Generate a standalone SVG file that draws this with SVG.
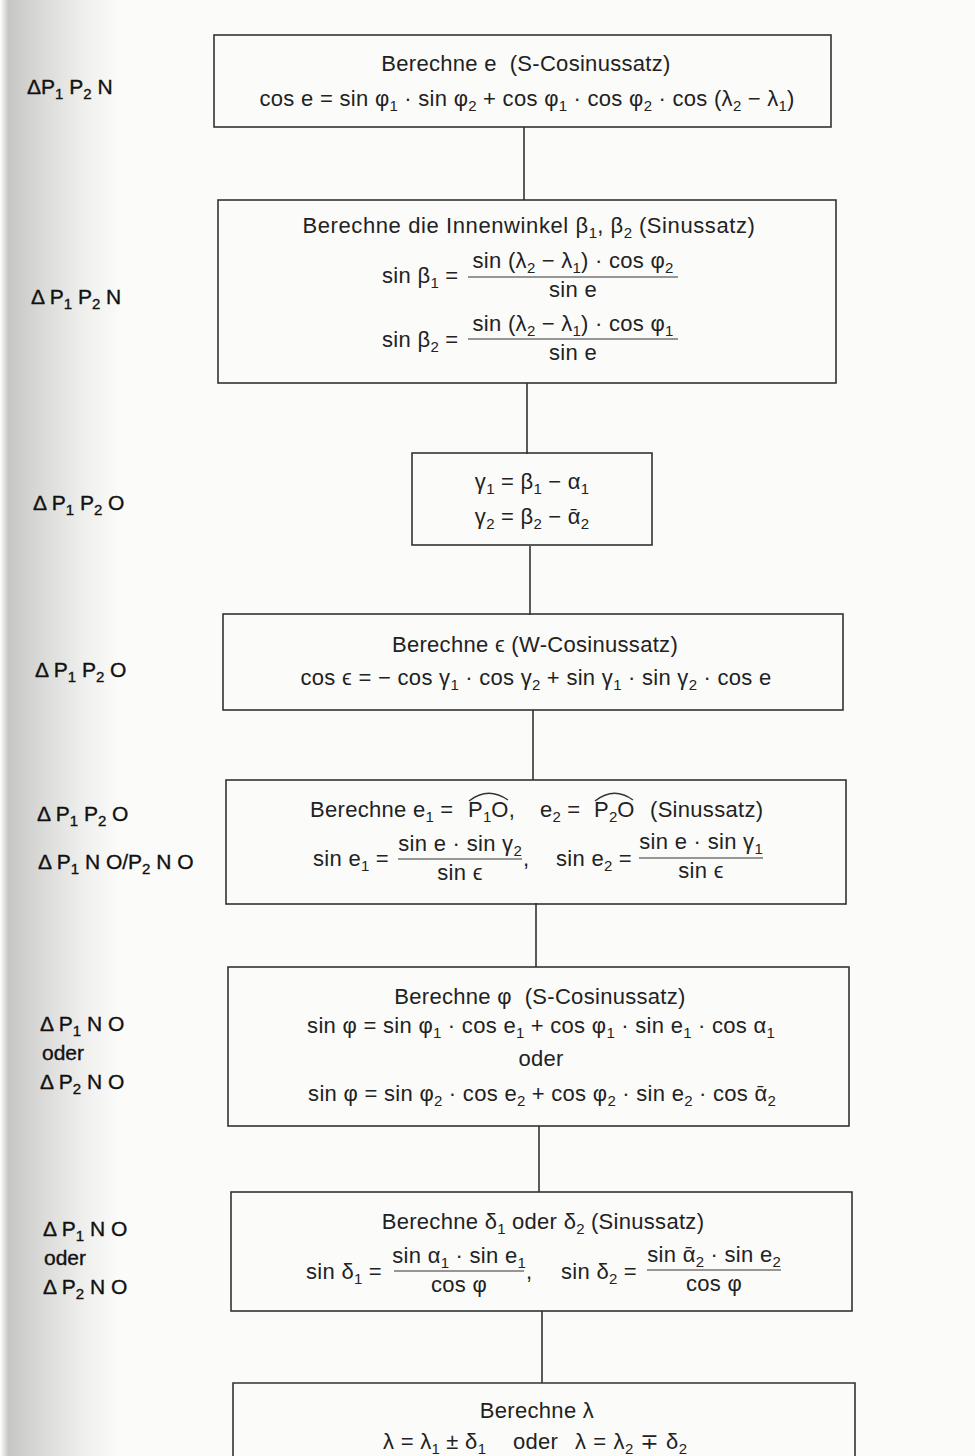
<svg xmlns="http://www.w3.org/2000/svg" width="975" height="1456" viewBox="0 0 975 1456">
  <defs>
    <linearGradient id="edge" x1="0" y1="0" x2="1" y2="0">
      <stop offset="0" stop-color="#ffffff"/>
      <stop offset="0.07" stop-color="#c6c6c4"/>
      <stop offset="0.35" stop-color="#dadad8"/>
      <stop offset="0.7" stop-color="#efefed"/>
      <stop offset="1" stop-color="#fbfbfa"/>
    </linearGradient>
    <style>
      text{font-family:"Liberation Sans","DejaVu Sans",Arial,sans-serif;font-size:22px;letter-spacing:0.3px;fill:#222;white-space:pre;}
      .c{text-anchor:middle;}
      .w{letter-spacing:0.6px;}
      .lab{font-size:21px;letter-spacing:0;fill:#111;stroke:#111;stroke-width:0.35px;}
      .s{font-size:15px;baseline-shift:-5px;letter-spacing:0;}
      .box{fill:none;stroke:#333;stroke-width:1.6;}
      .fr{stroke:#333;stroke-width:1.2;}
      .arc{fill:none;stroke:#333;stroke-width:1.4;}
      .conn{stroke:#333;stroke-width:1.6;fill:none;}
    </style>
  </defs>

  <!-- page -->
  <rect x="0" y="0" width="975" height="1456" fill="#fbfbfa"/>
  <rect x="0" y="0" width="120" height="1456" fill="url(#edge)"/>

  <!-- connectors between steps -->
  <g id="connectors">
    <line class="conn" x1="524" y1="127" x2="524" y2="200"/>
    <line class="conn" x1="527" y1="383" x2="527" y2="454"/>
    <line class="conn" x1="530" y1="546" x2="530" y2="615"/>
    <line class="conn" x1="533" y1="710" x2="533" y2="780"/>
    <line class="conn" x1="536" y1="903" x2="536" y2="967"/>
    <line class="conn" x1="539" y1="1126" x2="539" y2="1192"/>
    <line class="conn" x1="542" y1="1311" x2="542" y2="1383"/>
  </g>

  <!-- step 1: side e -->
  <g id="step-e">
    <rect class="box" x="214" y="35" width="617" height="92"/>
    <text class="c" x="526" y="71">Berechne e  (S-Cosinussatz)</text>
    <text class="c" x="527" y="106">cos e = sin φ<tspan class="s">1</tspan> · sin φ<tspan class="s">2</tspan> + cos φ<tspan class="s">1</tspan> · cos φ<tspan class="s">2</tspan> · cos (λ<tspan class="s">2</tspan> − λ<tspan class="s">1</tspan>)</text>
  </g>

  <!-- step 2: inner angles beta -->
  <g id="step-beta">
    <rect class="box" x="218" y="200" width="618" height="183"/>
    <text class="c w" x="529" y="233">Berechne die Innenwinkel β<tspan class="s">1</tspan>, β<tspan class="s">2</tspan> (Sinussatz)</text>
    <text x="382" y="283">sin β<tspan class="s">1</tspan> =</text>
    <text class="c" x="573" y="268">sin (λ<tspan class="s">2</tspan> − λ<tspan class="s">1</tspan>) · cos φ<tspan class="s">2</tspan></text>
    <line class="fr" x1="468" y1="277" x2="678" y2="277"/>
    <text class="c" x="573" y="297">sin e</text>
    <text x="382" y="347">sin β<tspan class="s">2</tspan> =</text>
    <text class="c" x="573" y="331">sin (λ<tspan class="s">2</tspan> − λ<tspan class="s">1</tspan>) · cos φ<tspan class="s">1</tspan></text>
    <line class="fr" x1="468" y1="339" x2="678" y2="339"/>
    <text class="c" x="573" y="360">sin e</text>
  </g>

  <!-- step 3: gamma -->
  <g id="step-gamma">
    <rect class="box" x="412" y="453" width="240" height="92"/>
    <text class="c" x="532" y="489">γ<tspan class="s">1</tspan> = β<tspan class="s">1</tspan> − α<tspan class="s">1</tspan></text>
    <text class="c" x="532" y="524">γ<tspan class="s">2</tspan> = β<tspan class="s">2</tspan> − ᾱ<tspan class="s">2</tspan></text>
  </g>

  <!-- step 4: epsilon -->
  <g id="step-epsilon">
    <rect class="box" x="223" y="614" width="620" height="96"/>
    <text class="c" x="535" y="652">Berechne ϵ (W-Cosinussatz)</text>
    <text class="c" x="536" y="685">cos ϵ = − cos γ<tspan class="s">1</tspan> · cos γ<tspan class="s">2</tspan> + sin γ<tspan class="s">1</tspan> · sin γ<tspan class="s">2</tspan> · cos e</text>
  </g>

  <!-- step 5: arcs e1, e2 -->
  <g id="step-e12">
    <rect class="box" x="226" y="780" width="620" height="124"/>
    <text x="310" y="817">Berechne e<tspan class="s">1</tspan> =</text>
    <text x="468" y="817">P<tspan class="s">1</tspan>O,</text>
    <text x="540" y="817">e<tspan class="s">2</tspan> =</text>
    <text x="594" y="817">P<tspan class="s">2</tspan>O</text>
    <text x="650" y="817">(Sinussatz)</text>
    <path class="arc" d="M469 801 Q488 786 508 800"/>
    <path class="arc" d="M595 801 Q614 786 633 800"/>
    <text x="313" y="866">sin e<tspan class="s">1</tspan> =</text>
    <text class="c" x="460" y="851">sin e · sin γ<tspan class="s">2</tspan></text>
    <line class="fr" x1="398" y1="859" x2="522" y2="859"/>
    <text class="c" x="460" y="880">sin ϵ</text>
    <text x="523" y="866">,</text>
    <text x="556" y="866">sin e<tspan class="s">2</tspan> =</text>
    <text class="c" x="701" y="849">sin e · sin γ<tspan class="s">1</tspan></text>
    <line class="fr" x1="639" y1="858" x2="763" y2="858"/>
    <text class="c" x="701" y="878">sin ϵ</text>
  </g>

  <!-- step 6: latitude phi -->
  <g id="step-phi">
    <rect class="box" x="228" y="967" width="621" height="159"/>
    <text class="c" x="540" y="1004">Berechne φ  (S-Cosinussatz)</text>
    <text class="c" x="541" y="1033">sin φ = sin φ<tspan class="s">1</tspan> · cos e<tspan class="s">1</tspan> + cos φ<tspan class="s">1</tspan> · sin e<tspan class="s">1</tspan> · cos α<tspan class="s">1</tspan></text>
    <text class="c" x="541" y="1066">oder</text>
    <text class="c" x="542" y="1101">sin φ = sin φ<tspan class="s">2</tspan> · cos e<tspan class="s">2</tspan> + cos φ<tspan class="s">2</tspan> · sin e<tspan class="s">2</tspan> · cos ᾱ<tspan class="s">2</tspan></text>
  </g>

  <!-- step 7: delta -->
  <g id="step-delta">
    <rect class="box" x="231" y="1192" width="621" height="119"/>
    <text class="c" x="543" y="1229">Berechne δ<tspan class="s">1</tspan> oder δ<tspan class="s">2</tspan> (Sinussatz)</text>
    <text x="306" y="1279">sin δ<tspan class="s">1</tspan> =</text>
    <text class="c" x="459" y="1263">sin α<tspan class="s">1</tspan> · sin e<tspan class="s">1</tspan></text>
    <line class="fr" x1="394" y1="1271" x2="524" y2="1271"/>
    <text class="c" x="459" y="1292">cos φ</text>
    <text x="526" y="1279">,</text>
    <text x="561" y="1279">sin δ<tspan class="s">2</tspan> =</text>
    <text class="c" x="714" y="1262">sin ᾱ<tspan class="s">2</tspan> · sin e<tspan class="s">2</tspan></text>
    <line class="fr" x1="647" y1="1270" x2="781" y2="1270"/>
    <text class="c" x="714" y="1291">cos φ</text>
  </g>

  <!-- step 8: longitude lambda -->
  <g id="step-lambda">
    <path class="box" d="M233 1456 V1383 H855 V1456"/>
    <text class="c" x="537" y="1418">Berechne λ</text>
    <text x="383" y="1449">λ = λ<tspan class="s">1</tspan> ± δ<tspan class="s">1</tspan></text>
    <text x="513" y="1449">oder</text>
    <text class="w" x="575" y="1449">λ = λ<tspan class="s">2</tspan> ∓ δ<tspan class="s">2</tspan></text>
  </g>

  <!-- triangle labels -->
  <g id="labels">
    <text class="lab" x="27" y="94">ΔP<tspan class="s">1</tspan> P<tspan class="s">2</tspan> N</text>
    <text class="lab" x="31" y="304">Δ P<tspan class="s">1</tspan> P<tspan class="s">2</tspan> N</text>
    <text class="lab" x="33" y="510">Δ P<tspan class="s">1</tspan> P<tspan class="s">2</tspan> O</text>
    <text class="lab" x="35" y="677">Δ P<tspan class="s">1</tspan> P<tspan class="s">2</tspan> O</text>
    <text class="lab" x="37" y="821">Δ P<tspan class="s">1</tspan> P<tspan class="s">2</tspan> O</text>
    <text class="lab" x="38" y="869">Δ P<tspan class="s">1</tspan> N O/P<tspan class="s">2</tspan> N O</text>
    <text class="lab" x="40" y="1031">Δ P<tspan class="s">1</tspan> N O</text>
    <text class="lab" x="42" y="1060">oder</text>
    <text class="lab" x="40" y="1089">Δ P<tspan class="s">2</tspan> N O</text>
    <text class="lab" x="43" y="1236">Δ P<tspan class="s">1</tspan> N O</text>
    <text class="lab" x="44" y="1265">oder</text>
    <text class="lab" x="43" y="1294">Δ P<tspan class="s">2</tspan> N O</text>
  </g>
</svg>
